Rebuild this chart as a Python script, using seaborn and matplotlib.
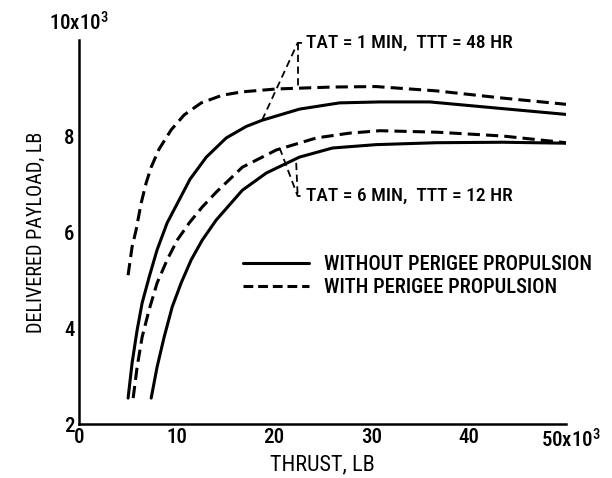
import numpy as np
import pandas as pd
import matplotlib
matplotlib.use("Agg")
import matplotlib.pyplot as plt
import seaborn as sns

# ---- data ----
x_ticks = [0, 10, 20, 30, 40, 50]
x_ticklabels = ["0", "10", "20", "30", "40", ""]
y_ticks = [2, 4, 6, 8, 10]
y_ticklabels = ["2", "4", "6", "8", ""]

# TAT = 1 MIN, TTT = 48 HR, with perigee propulsion (dashed)
x_hi_with = [5.04, 5.45, 5.86, 6.38, 6.89, 7.41, 8.2, 9.47, 10.8, 12.55, 14.71, 16.77, 20.27, 26.0, 30.5, 36.7, 43.5, 50.0]
y_hi_with = [5.10, 5.69, 6.04, 6.60, 7.02, 7.35, 7.72, 8.13, 8.44, 8.69, 8.85, 8.92, 8.98, 9.02, 9.03, 8.94, 8.79, 8.66]
# TAT = 1 MIN, TTT = 48 HR, without perigee propulsion (solid)
x_hi_wo = [5.04, 5.45, 5.97, 6.48, 7.20, 8.02, 9.05, 10.29, 11.4, 13.07, 15.12, 17.18, 18.83, 22.63, 26.75, 30.9, 36.0, 41.9, 50.0]
y_hi_wo = [2.54, 3.27, 3.96, 4.52, 5.06, 5.63, 6.19, 6.67, 7.10, 7.56, 7.96, 8.20, 8.33, 8.56, 8.69, 8.71, 8.71, 8.60, 8.45]
# TAT = 6 MIN, TTT = 12 HR, with perigee propulsion (dashed)
x_lo_with = [5.56, 5.97, 6.48, 7.20, 8.02, 9.05, 10.08, 11.32, 12.65, 14.09, 16.77, 20.27, 24.38, 27.78, 30.9, 36.7, 43.5, 50.0]
y_lo_with = [2.54, 3.19, 3.81, 4.38, 4.94, 5.42, 5.83, 6.19, 6.52, 6.83, 7.35, 7.71, 7.96, 8.06, 8.11, 8.08, 8.00, 7.86]
# TAT = 6 MIN, TTT = 12 HR, without perigee propulsion (solid)
x_lo_wo = [7.41, 8.02, 8.74, 9.57, 10.49, 11.52, 12.65, 14.09, 16.77, 19.24, 22.63, 26.03, 30.5, 36.7, 43.5, 50.0]
y_lo_wo = [2.54, 3.19, 3.81, 4.44, 4.94, 5.42, 5.83, 6.25, 6.87, 7.23, 7.56, 7.75, 7.82, 7.86, 7.87, 7.85]

label_wo = "WITHOUT PERIGEE PROPULSION"
label_with = "WITH PERIGEE PROPULSION"
ann_hi = "TAT = 1 MIN,  TTT = 48 HR"
ann_lo = "TAT = 6 MIN,  TTT = 12 HR"

# ---- style ----
sns.set_theme(style="white")
plt.rcParams["font.family"] = ["Roboto Condensed", "DejaVu Sans"]
plt.rcParams["font.weight"] = "medium"
plt.rcParams["mathtext.fontset"] = "custom"
plt.rcParams["mathtext.rm"] = "Roboto Condensed:medium"
plt.rcParams["mathtext.it"] = "Roboto Condensed:medium"
plt.rcParams["text.color"] = "black"
plt.rcParams["axes.labelcolor"] = "black"

fig = plt.figure(figsize=(6.12, 4.78), dpi=100)
ax = fig.add_axes([79 / 612, 1 - 424 / 478, (566 - 79) / 612, (424 - 40) / 478])

curves = [
    (x_hi_with, y_hi_with, "with"),
    (x_hi_wo, y_hi_wo, "wo"),
    (x_lo_with, y_lo_with, "with"),
    (x_lo_wo, y_lo_wo, "wo"),
]
for xs, ys, kind in curves:
    df = pd.DataFrame({"x": xs, "y": ys})
    ls = "-" if kind == "wo" else (0, (4, 2))
    sns.lineplot(data=df, x="x", y="y", ax=ax, color="black", lw=2.2,
                 sort=False, estimator=None, linestyle=ls)

ax.set_xlim(0, 50)
ax.set_ylim(2, 10)
for s in ["top", "right"]:
    ax.spines[s].set_visible(False)
for s in ["left", "bottom"]:
    ax.spines[s].set_linewidth(1.8)
    ax.spines[s].set_color("black")
ax.set_xticks(x_ticks)
ax.set_xticklabels(x_ticklabels)
ax.set_yticks(y_ticks)
ax.set_yticklabels(y_ticklabels)
ax.tick_params(direction="in", length=17, width=1.5, labelsize=15,
               colors="black", pad=3)
ax.tick_params(axis="x", pad=3)

ax.annotate("10x10$^3$", xy=(0, 10), xycoords="data", xytext=(0, 4),
            textcoords="offset points", ha="center", va="bottom",
            fontsize=15, annotation_clip=False)
ax.annotate("50x10$^3$", xy=(50, 2), xycoords="data", xytext=(-18, -3),
            textcoords="offset points", ha="left", va="top",
            fontsize=15, annotation_clip=False)

ax.set_xlabel("THRUST, LB", fontsize=16, labelpad=5)
ax.set_ylabel("DELIVERED PAYLOAD, LB", fontsize=14.6, labelpad=13)

# legend
h1, = ax.plot([], [], color="black", lw=2.2)
h2, = ax.plot([], [], color="black", lw=2.2, linestyle=(0, (3.2, 1.6)))
ax.legend([h1, h2], [label_wo, label_with], loc="upper left",
          bbox_to_anchor=(0.337, 0.44), frameon=False, fontsize=14.8,
          handlelength=3.2, handletextpad=0.75, labelspacing=0.2,
          borderpad=0, borderaxespad=0)

# annotations with dashed leaders
lead = dict(color="black", lw=1.3, linestyle=(0, (4, 2.5)))
cx = 22.45
cy = 9.94
ax.plot([18.8, cx, 23.2], [8.33, cy, cy], **lead)
ax.plot([cx, cx], [cy, 9.0], **lead)
ax.text(23.3, cy, ann_hi, fontsize=14, va="center", ha="left")
cy2 = 6.75
ax.plot([20.6, cx, 23.2], [7.75, cy2, cy2], **lead)
ax.plot([22.3, cx], [7.44, cy2], **lead)
ax.text(23.3, cy2, ann_lo, fontsize=14, va="center", ha="left")

fig.savefig("out.png", dpi=100)
